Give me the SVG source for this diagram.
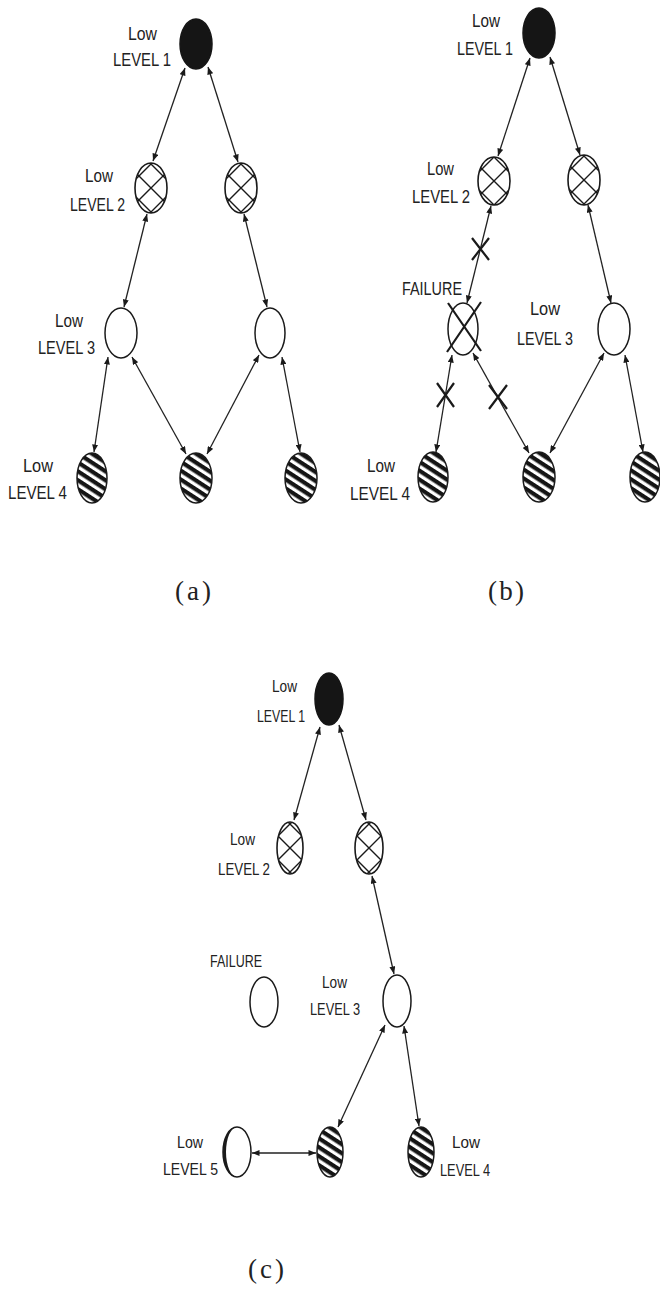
<svg xmlns="http://www.w3.org/2000/svg" width="660" height="1291" viewBox="0 0 660 1291">
<style>
.lbl{font-family:"Liberation Sans",Arial,sans-serif;font-size:18px;fill:#222}
.lbs{font-family:"Liberation Sans",Arial,sans-serif;font-size:16px;fill:#222}
.cap{font-family:"Liberation Serif","Times New Roman",serif;font-size:27px;fill:#222;text-anchor:middle}
.blk{fill:#151515;stroke:#151515;stroke-width:1.5}
.crs{fill:url(#hatch);stroke:#1a1a1a;stroke-width:1.6}
.wht{fill:#fff;stroke:#1a1a1a;stroke-width:1.5}
.str{fill:url(#stripes);stroke:#1a1a1a;stroke-width:1.5}
.edge{stroke:#222;stroke-width:1.3;fill:none;marker-start:url(#ah);marker-end:url(#ah)}
.xm{stroke:#1a1a1a;stroke-width:2.2;fill:none}
</style>
<defs>
<pattern id="hatch" patternUnits="userSpaceOnUse" x="-12" y="-12" width="24" height="24">
<rect width="24" height="24" fill="#fff"/>
<path d="M0,0 L24,24 M24,0 L0,24" stroke="#1a1a1a" stroke-width="1.4"/>
</pattern>
<pattern id="stripes" patternUnits="userSpaceOnUse" width="8" height="7.5" patternTransform="rotate(33)">
<rect width="8" height="7.5" fill="#fff"/>
<rect width="8" height="4.2" fill="#151515"/>
</pattern>
<marker id="ah" viewBox="0 0 10 8" refX="10" refY="4" markerWidth="8" markerHeight="6" markerUnits="userSpaceOnUse" orient="auto-start-reverse">
<path d="M0,0 L10,4 L0,8 z" fill="#1a1a1a"/>
</marker>
</defs>
<rect width="660" height="1291" fill="#fff"/>

<g id="connectors">
<!-- panel a -->
<line class="edge" x1="185" y1="68" x2="153" y2="161"/>
<line class="edge" x1="208" y1="67" x2="238" y2="162"/>
<line class="edge" x1="147" y1="214" x2="124" y2="307"/>
<line class="edge" x1="244" y1="214" x2="267" y2="307"/>
<line class="edge" x1="108" y1="357" x2="94" y2="452"/>
<line class="edge" x1="132" y1="357" x2="186" y2="454"/>
<line class="edge" x1="259" y1="355" x2="207" y2="454"/>
<line class="edge" x1="282" y1="357" x2="300" y2="452"/>
<!-- panel b -->
<line class="edge" x1="530" y1="58" x2="498" y2="156"/>
<line class="edge" x1="550" y1="57" x2="580" y2="155"/>
<line class="edge" x1="491" y1="206" x2="467" y2="303"/>
<line class="edge" x1="588" y1="205" x2="611" y2="303"/>
<line class="edge" x1="452" y1="355" x2="436" y2="452"/>
<line class="edge" x1="473" y1="353" x2="529" y2="453"/>
<line class="edge" x1="604" y1="353" x2="550" y2="453"/>
<line class="edge" x1="625" y1="355" x2="643" y2="452"/>
<path class="xm" d="M472,238 L489,260 M489,238 L472,260"/>
<path class="xm" d="M437,383 L454,407 M454,383 L437,407"/>
<path class="xm" d="M489,385 L507,409 M507,385 L489,409"/>
<!-- panel c -->
<line class="edge" x1="320" y1="727" x2="294" y2="820"/>
<line class="edge" x1="339" y1="725" x2="366" y2="820"/>
<line class="edge" x1="372" y1="876" x2="394" y2="974"/>
<line class="edge" x1="385" y1="1025" x2="338" y2="1127"/>
<line class="edge" x1="404" y1="1026" x2="419" y2="1126"/>
<line class="edge" x1="252" y1="1153" x2="316" y2="1153"/>
</g>

<!-- Panel (a) -->
<g id="a-level1">
<text class="lbl" x="128" y="40" textLength="29" lengthAdjust="spacingAndGlyphs">Low</text>
<text class="lbl" x="113" y="66" textLength="58" lengthAdjust="spacingAndGlyphs">LEVEL 1</text>
<g transform="translate(196,44)"><ellipse class="blk" rx="16" ry="25"/></g>
</g>
<g id="a-level2-left">
<text class="lbl" x="85" y="182" textLength="28" lengthAdjust="spacingAndGlyphs">Low</text>
<text class="lbl" x="70" y="211" textLength="55" lengthAdjust="spacingAndGlyphs">LEVEL 2</text>
<g transform="translate(151,188)"><ellipse class="crs" rx="16" ry="25"/></g>
</g>
<g id="a-level2-right">
<g transform="translate(241,188)"><ellipse class="crs" rx="16" ry="25"/></g>
</g>
<g id="a-level3-left">
<text class="lbl" x="55" y="327" textLength="28" lengthAdjust="spacingAndGlyphs">Low</text>
<text class="lbl" x="38" y="354" textLength="57" lengthAdjust="spacingAndGlyphs">LEVEL 3</text>
<g transform="translate(121,333)"><ellipse class="wht" rx="16" ry="25"/></g>
</g>
<g id="a-level3-right">
<g transform="translate(270,333)"><ellipse class="wht" rx="15" ry="25"/></g>
</g>
<g id="a-level4-left">
<text class="lbl" x="23" y="472" textLength="30" lengthAdjust="spacingAndGlyphs">Low</text>
<text class="lbl" x="8" y="499" textLength="59" lengthAdjust="spacingAndGlyphs">LEVEL 4</text>
<g transform="translate(92,478)"><ellipse class="str" rx="15" ry="25"/></g>
</g>
<g id="a-level4-mid">
<g transform="translate(196,478)"><ellipse class="str" rx="16" ry="25"/></g>
</g>
<g id="a-level4-right">
<g transform="translate(301,478)"><ellipse class="str" rx="16" ry="25"/></g>
</g>
<text id="cap-a" class="cap" x="193" y="600" textLength="36">(a)</text>

<!-- Panel (b) -->
<g id="b-level1">
<text class="lbl" x="472" y="27" textLength="28" lengthAdjust="spacingAndGlyphs">Low</text>
<text class="lbl" x="457" y="55" textLength="56" lengthAdjust="spacingAndGlyphs">LEVEL 1</text>
<g transform="translate(539,33)"><ellipse class="blk" rx="16" ry="25"/></g>
</g>
<g id="b-level2-left">
<text class="lbl" x="427" y="175" textLength="27" lengthAdjust="spacingAndGlyphs">Low</text>
<text class="lbl" x="412" y="203" textLength="58" lengthAdjust="spacingAndGlyphs">LEVEL 2</text>
<g transform="translate(494,181)"><ellipse class="crs" rx="16" ry="24"/></g>
</g>
<g id="b-level2-right">
<g transform="translate(584,180)"><ellipse class="crs" rx="16" ry="25"/></g>
</g>
<g id="b-failure">
<text class="lbl" x="402" y="295" textLength="60" lengthAdjust="spacingAndGlyphs">FAILURE</text>
<g transform="translate(463,329)"><ellipse class="wht" rx="15" ry="26"/></g>
<path class="xm" d="M448,303 L481,351 M481,302 L447,352"/>
</g>
<g id="b-level3-right">
<text class="lbl" x="530" y="315" textLength="30" lengthAdjust="spacingAndGlyphs">Low</text>
<text class="lbl" x="517" y="345" textLength="56" lengthAdjust="spacingAndGlyphs">LEVEL 3</text>
<g transform="translate(614,329)"><ellipse class="wht" rx="16" ry="26"/></g>
</g>
<g id="b-level4-left">
<text class="lbl" x="367" y="472" textLength="28" lengthAdjust="spacingAndGlyphs">Low</text>
<text class="lbl" x="350" y="500" textLength="60" lengthAdjust="spacingAndGlyphs">LEVEL 4</text>
<g transform="translate(433,477)"><ellipse class="str" rx="15" ry="25"/></g>
</g>
<g id="b-level4-mid">
<g transform="translate(539,477)"><ellipse class="str" rx="16" ry="25"/></g>
</g>
<g id="b-level4-right">
<g transform="translate(645,477)"><ellipse class="str" rx="15" ry="25"/></g>
</g>
<text id="cap-b" class="cap" x="506" y="600" textLength="36">(b)</text>

<!-- Panel (c) -->
<g id="c-level1">
<text class="lbs" x="272" y="692" textLength="25" lengthAdjust="spacingAndGlyphs">Low</text>
<text class="lbs" x="257" y="722" textLength="48" lengthAdjust="spacingAndGlyphs">LEVEL 1</text>
<g transform="translate(329,699)"><ellipse class="blk" rx="14" ry="26"/></g>
</g>
<g id="c-level2-left">
<text class="lbs" x="230" y="845" textLength="25" lengthAdjust="spacingAndGlyphs">Low</text>
<text class="lbs" x="218" y="875" textLength="52" lengthAdjust="spacingAndGlyphs">LEVEL 2</text>
<g transform="translate(290,848)"><ellipse class="crs" rx="13" ry="26"/></g>
</g>
<g id="c-level2-right">
<g transform="translate(369,848)"><ellipse class="crs" rx="14" ry="26"/></g>
</g>
<g id="c-failure">
<text class="lbs" x="210" y="967" textLength="52" lengthAdjust="spacingAndGlyphs">FAILURE</text>
<g transform="translate(264,1002)"><ellipse class="wht" rx="14" ry="25"/></g>
</g>
<g id="c-level3">
<text class="lbs" x="322" y="988" textLength="25" lengthAdjust="spacingAndGlyphs">Low</text>
<text class="lbs" x="310" y="1015" textLength="50" lengthAdjust="spacingAndGlyphs">LEVEL 3</text>
<g transform="translate(397,1001)"><ellipse class="wht" rx="14" ry="26"/></g>
</g>
<g id="c-level5">
<text class="lbs" x="177" y="1148" textLength="26" lengthAdjust="spacingAndGlyphs">Low</text>
<text class="lbs" x="163" y="1175" textLength="55" lengthAdjust="spacingAndGlyphs">LEVEL 5</text>
<g transform="translate(237,1152)">
<ellipse class="wht" rx="14" ry="25"/>
<path d="M0,-25 A14,25 0 0 0 0,25 A11,25 0 0 1 0,-25 Z" fill="#1a1a1a"/>
</g>
</g>
<g id="c-level4-mid">
<g transform="translate(330,1152)"><ellipse class="str" rx="13" ry="25"/></g>
</g>
<g id="c-level4-right">
<text class="lbs" x="452" y="1148" textLength="28" lengthAdjust="spacingAndGlyphs">Low</text>
<text class="lbs" x="440" y="1176" textLength="50" lengthAdjust="spacingAndGlyphs">LEVEL 4</text>
<g transform="translate(421,1152)"><ellipse class="str" rx="13" ry="25"/></g>
</g>
<text id="cap-c" class="cap" x="266" y="1278" textLength="36">(c)</text>
</svg>
